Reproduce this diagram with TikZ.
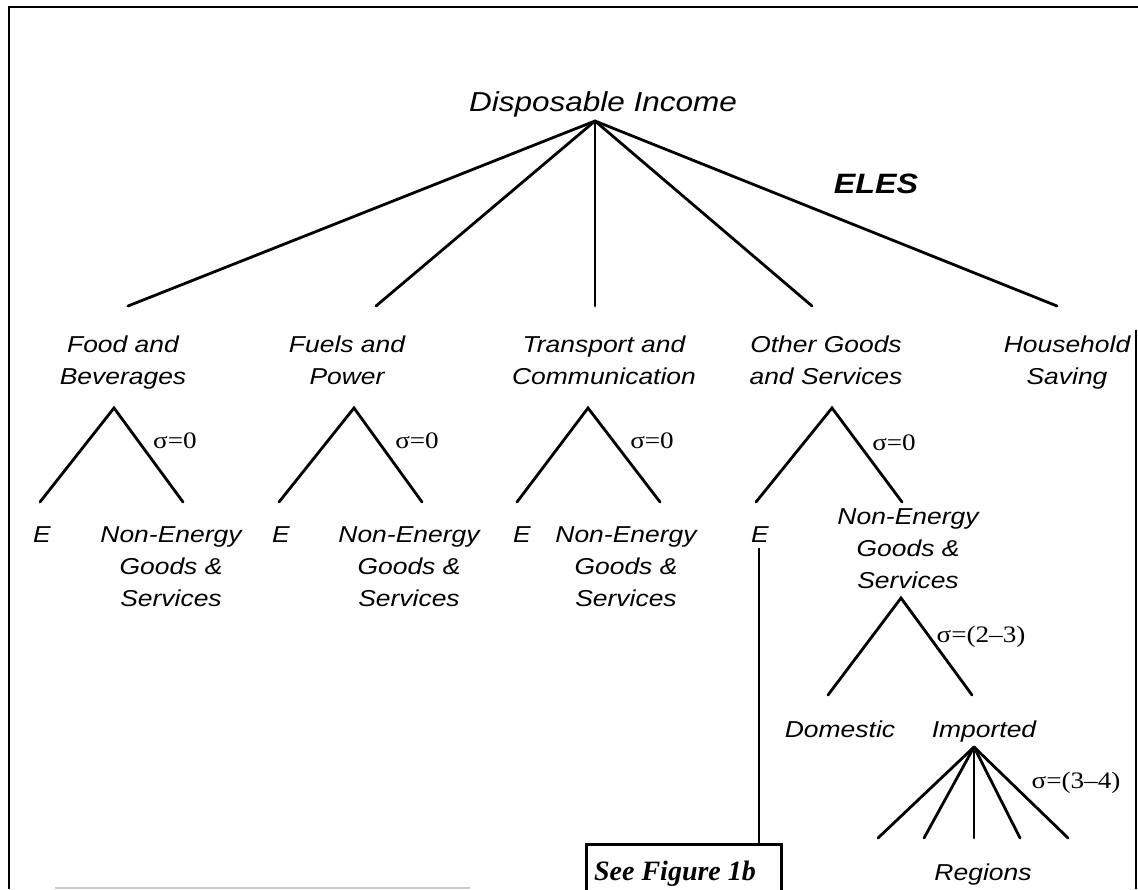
\documentclass[tikz,border=0pt]{standalone}
\usepackage{fontspec}
\newfontfamily\hv{Liberation Sans}[FakeStretch=1.15]
\newfontfamily\tm{Liberation Serif}[FakeStretch=1.15]
\newfontfamily\tmb{Liberation Serif}
\begin{document}
\begin{tikzpicture}[x=0.5pt,y=-0.5pt,
  lbl/.style={font=\hv\itshape\fontsize{11.5}{16}\selectfont, align=center, inner sep=0pt, anchor=north},
  sig/.style={font=\tm\fontsize{11.8}{13}\selectfont, inner sep=0pt, anchor=base},
  br/.style={line width=1.4pt, line cap=round},
  frameline/.style={line width=1.4pt}]
\useasboundingbox (0,0) rectangle (1138,889);
% frame
\draw[frameline] (9,889) -- (9,7) -- (1138,7);
\draw[line width=1pt] (1136,330) -- (1136,889);
\draw[line width=1pt, gray!40] (55,888) -- (470,888);

% top
\node[font=\hv\itshape\fontsize{13.7}{16}\selectfont, inner sep=0pt, anchor=base] (di) at (603,111) {Disposable Income};
\coordinate (top) at (595,121);
\node[font=\hv\bfseries\itshape\fontsize{14}{16}\selectfont, inner sep=0pt, anchor=base] (eles) at (876,193) {ELES};

\coordinate (t1) at (128,306);
\coordinate (t2) at (376,306);
\coordinate (t3) at (595,306);
\coordinate (t4) at (812,306);
\coordinate (t5) at (1057,306);
\foreach \i in {1,...,5} {\draw[br] (top) -- (t\i);}

% level 2 labels
\node[lbl] (food) at (123,335) {Food and\\Beverages};
\node[lbl] (fuel) at (347,335) {Fuels and\\Power};
\node[lbl] (trans) at (604,335) {Transport and\\Communication};
\node[lbl] (other) at (826,335) {Other Goods\\and Services};
\node[lbl] (save) at (1067,335) {Household\\Saving};

% small trees
\coordinate (a1) at (114,408); \coordinate (l1) at (40,502);  \coordinate (r1) at (183,502);
\coordinate (a2) at (354,408); \coordinate (l2) at (279,502); \coordinate (r2) at (422,502);
\coordinate (a3) at (588,408); \coordinate (l3) at (517,502); \coordinate (r3) at (660,502);
\coordinate (a4) at (832,408); \coordinate (l4) at (756,502); \coordinate (r4) at (902,502);
\foreach \i in {1,...,4} {\draw[br] (l\i) -- (a\i) -- (r\i);}
\node[sig] (s1) at (175,448) {σ=0};
\node[sig] (s2) at (417,448) {σ=0};
\node[sig] (s3) at (652,448) {σ=0};
\node[sig] (s4) at (894,450) {σ=0};

% E and Non-Energy labels
\node[lbl] (e1) at (42,526) {E};
\node[lbl] (e2) at (281,526) {E};
\node[lbl] (e3) at (522,526) {E};
\node[lbl] (e4) at (760,526) {E};
\node[lbl] (n1) at (171,526) {Non-Energy\\Goods \&\\Services};
\node[lbl] (n2) at (409,526) {Non-Energy\\Goods \&\\Services};
\node[lbl] (n3) at (626,526) {Non-Energy\\Goods \&\\Services};
\node[lbl] (n4) at (908,508) {Non-Energy\\Goods \&\\Services};

% See Figure 1b
\node[draw, line width=1.3pt, minimum width=97.5pt, minimum height=32pt, inner sep=0pt, anchor=north] (fig) at (684,843) {};
\node[font=\tmb\bfseries\itshape\fontsize{14}{16}\selectfont, inner sep=0pt, anchor=base] (figt) at (675,880) {See Figure 1b};
\draw[br, line cap=butt] (759,548) coordinate (ev) -- (ev |- fig.north);

% Non-energy subtree
\coordinate (a5) at (901,598); \coordinate (l5) at (828,695); \coordinate (r5) at (972,695);
\draw[br] (l5) -- (a5) -- (r5);
\node[sig] (s5) at (981,642) {σ=(2–3)};
\node[lbl] (dom) at (840,720) {Domestic};
\node[lbl] (imp) at (984,720) {Imported};

% regions fan
\coordinate (a6) at (974,747);
\foreach \x [count=\k] in {878,924,974,1020,1068} {\coordinate (f\k) at (\x,838); \draw[br] (a6) -- (f\k);}
\node[sig] (s6) at (1076,788) {σ=(3–4)};
\node[lbl] (reg) at (983,863) {Regions};
\end{tikzpicture}
\end{document}
